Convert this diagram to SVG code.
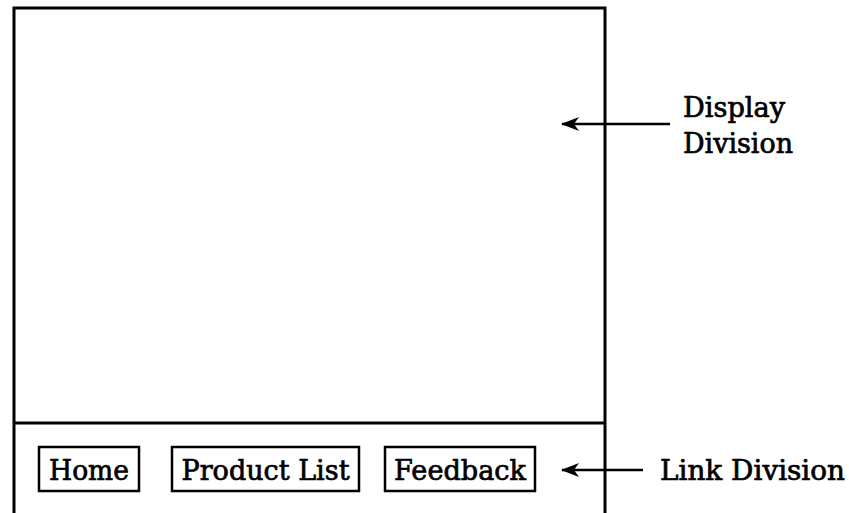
<svg xmlns="http://www.w3.org/2000/svg" width="849" height="513" viewBox="0 0 849 513">
<style>
.frame{fill:none;stroke:#000;stroke-width:3}
.btn{fill:#fff;stroke:#000;stroke-width:2.5}
.lbl{font-family:"DejaVu Serif","Liberation Serif",serif;font-size:27px;fill:#000;stroke:#000;stroke-width:0.7}
.conn{stroke:#000;stroke-width:2.5;fill:none}
</style>
<defs>
<marker id="ah" markerWidth="18" markerHeight="14" refX="17" refY="7" orient="auto" markerUnits="userSpaceOnUse">
<path d="M0,0 L18,7 L0,14 L5,7 Z" fill="#000"/>
</marker>
</defs>
<rect width="849" height="513" fill="#fff"/>
<g id="page">
<path class="frame" d="M14,515 L14,8 L605,8 L605,515"/>
</g>
<g id="display-division">
<line class="frame" x1="14" y1="423" x2="605" y2="423"/>
</g>
<g id="home">
<rect class="btn" x="39" y="447" width="100" height="44"/>
<text class="lbl" x="89" y="480" text-anchor="middle" textLength="80" lengthAdjust="spacingAndGlyphs">Home</text>
</g>
<g id="product-list">
<rect class="btn" x="172" y="447" width="187" height="44"/>
<text class="lbl" x="265.5" y="480" text-anchor="middle" textLength="168" lengthAdjust="spacingAndGlyphs">Product List</text>
</g>
<g id="feedback">
<rect class="btn" x="385" y="447" width="150" height="44"/>
<text class="lbl" x="460" y="480" text-anchor="middle" textLength="132" lengthAdjust="spacingAndGlyphs">Feedback</text>
</g>
<g id="label-display">
<text class="lbl" x="683" y="117" textLength="102" lengthAdjust="spacingAndGlyphs">Display</text>
<text class="lbl" x="683" y="153" textLength="110" lengthAdjust="spacingAndGlyphs">Division</text>
</g>
<g id="label-link">
<text class="lbl" x="660" y="480" textLength="185" lengthAdjust="spacingAndGlyphs">Link Division</text>
</g>
<g id="connectors">
<line class="conn" x1="670" y1="124" x2="562" y2="124" marker-end="url(#ah)"/>
<line class="conn" x1="643" y1="470" x2="562" y2="470" marker-end="url(#ah)"/>
</g>
</svg>
